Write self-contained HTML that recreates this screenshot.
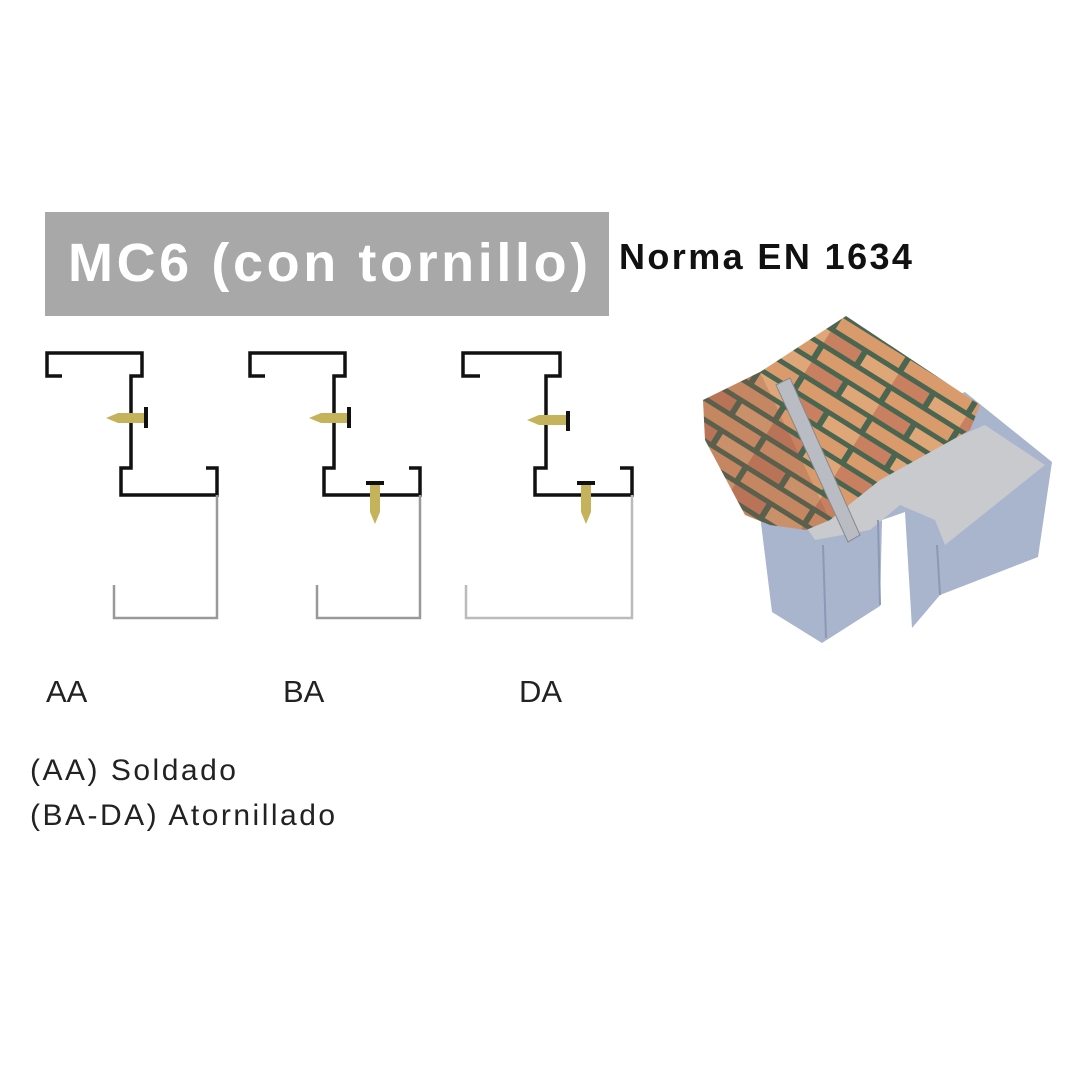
<!DOCTYPE html>
<html><head><meta charset="utf-8"><style>
body{margin:0;width:1080px;height:1080px;background:#fff;position:relative;overflow:hidden;font-family:"Liberation Sans",sans-serif}
.t{position:absolute;white-space:nowrap}
</style></head><body>
<div style="position:absolute;left:45px;top:212px;width:564px;height:104px;background:#a8a8a8"></div>
<div class="t" style="left:68px;top:232px;font-size:54px;font-weight:bold;color:#fff;letter-spacing:3.6px">MC6 (con tornillo)</div>
<div class="t" style="left:619px;top:236px;font-size:36px;font-weight:bold;color:#111;letter-spacing:2.4px">Norma EN 1634</div>
<div class="t" style="left:46px;top:674px;font-size:31px;color:#222">AA</div>
<div class="t" style="left:283px;top:674px;font-size:31px;color:#222">BA</div>
<div class="t" style="left:519px;top:674px;font-size:31px;color:#222">DA</div>
<div class="t" style="left:30px;top:754px;font-size:30px;color:#222;letter-spacing:2.5px">(AA) Soldado</div>
<div class="t" style="left:30px;top:799px;font-size:30px;color:#222;letter-spacing:2.5px">(BA-DA) Atornillado</div>
<svg width="1080" height="1080" style="position:absolute;left:0;top:0">
<defs>
<g id="prof">
<polyline points="62,376 47,376 47,353 142,353 142,376 131,376 131,468 121,468 121,495 217,495 217,468 206,468" fill="none" stroke="#111" stroke-width="3.5"/>
<polyline points="217,495 217,618 114,618 114,585" fill="none" stroke="#999" stroke-width="2.5"/>
<rect x="144" y="407" width="4" height="21" fill="#111"/>
<polygon points="106,418 118,413 144,413 144,423 118,423" fill="#c4b35a"/>
</g>
<g id="scr2">
<rect x="-9" y="481" width="18" height="4" fill="#111"/>
<polygon points="-5,485 5,485 5,512 0,524 -5,512" fill="#c4b35a"/>
</g>
<pattern id="brk" width="80" height="36" patternUnits="userSpaceOnUse" patternTransform="rotate(32)">
<rect width="80" height="36" fill="#4a6650"/>
<rect x="3" y="3" width="74" height="13" fill="#d99a6c"/>
<rect x="-37" y="21" width="74" height="13" fill="#c98060"/>
<rect x="43" y="21" width="74" height="13" fill="#dfa678"/>
</pattern>
</defs>
<use href="#prof"/>
<use href="#prof" transform="translate(203,0)"/>
<use href="#scr2" transform="translate(375,0)"/>
<g transform="translate(418,0)">
<polyline points="62,376 45,376 45,353 142,353 142,376 128,376 128,468 117,468 117,495 214,495 214,468 202,468" fill="none" stroke="#111" stroke-width="3.5"/>
<polyline points="214,495 214,618 48,618 48,585" fill="none" stroke="#bbb" stroke-width="2.5"/>
<rect x="148" y="411" width="4" height="20" fill="#111"/>
<polygon points="109,420 121,415 148,415 148,425 121,425" fill="#c4b35a"/>
</g>
<use href="#scr2" transform="translate(586,0)"/>
<!-- frame -->
<polygon points="760,515 772,612 822,643 880,606 882,520 905,512 912,628 940,595 1038,557 1052,462 965,392 900,420" fill="#a9b4cd"/>
<polygon points="772,518 800,518 815,540 870,530 900,505 935,520 945,545 1045,465 985,425 880,470 800,500" fill="#c8cacd"/>
<line x1="823" y1="545" x2="826" y2="638" stroke="#8c98b4" stroke-width="2"/>
<line x1="937" y1="545" x2="940" y2="595" stroke="#8c98b4" stroke-width="2"/>
<line x1="878" y1="520" x2="880" y2="605" stroke="#8c98b4" stroke-width="2"/>
<!-- brick block -->
<polygon points="703,400 760,372 846,316 980,405 970,430 880,480 830,520 806,530 770,525 745,515 705,440" fill="url(#brk)"/>
<polygon points="703,400 760,372 830,520 806,530 770,525 745,515 705,440" fill="#8a5040" opacity="0.25"/>
<!-- dowel -->
<polygon points="776,385 790,378 860,535 848,542" fill="#b9bcc2" stroke="#888" stroke-width="1"/>
</svg>
</body></html>
